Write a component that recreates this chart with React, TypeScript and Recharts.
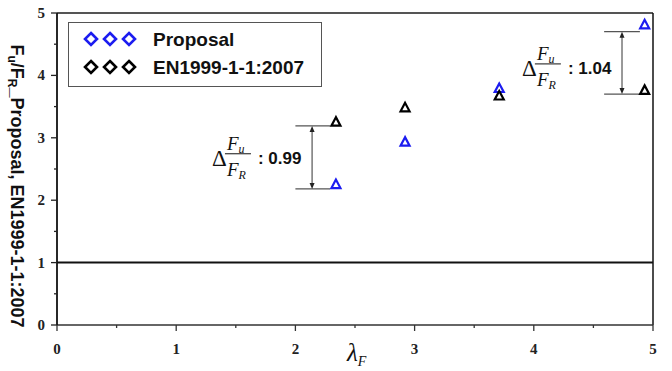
import {
  ScatterChart,
  Scatter,
  XAxis,
  YAxis,
  ReferenceLine,
  ReferenceDot,
  Legend,
} from 'recharts'

// values
const lambdaF = [2.34, 2.92, 3.71, 4.93]
const proposal = [2.25, 2.93, 3.79, 4.81]
const en1999 = [3.25, 3.48, 3.67, 3.76]
const axisTicks = [0, 0.5, 1, 1.5, 2, 2.5, 3, 3.5, 4, 4.5, 5]
const seriesNames = ['Proposal', 'EN1999-1-1:2007']
const seriesColors = ['#1c1cf0', '#000000']
const deltaValues = ['0.99', '1.04']

// difference markers (data units): [x left, x right, x arrow, y top, y bottom, text x, text y]
const deltaMarks = [
  [2.0, 2.29, 2.14, 3.19, 2.18, 1.3, 2.68],
  [4.59, 4.89, 4.74, 4.7, 3.7, 3.9, 4.12],
]

const proposalData = lambdaF.map((x, i) => ({ x, y: proposal[i] }))
const enData = lambdaF.map((x, i) => ({ x, y: en1999[i] }))

const serif = '"Liberation Serif", "Times New Roman", serif'
const sans = '"Liberation Sans", Arial, sans-serif'

function triangle(color: string) {
  return (p: any) => (
    <polygon
      points={`${p.cx},${p.cy - 5} ${p.cx - 4.5},${p.cy + 3.5} ${p.cx + 4.5},${p.cy + 3.5}`}
      fill='#fff'
      stroke={color}
      strokeWidth={2.2}
      strokeLinejoin='miter'
    />
  )
}

function XTick({ x, y, payload }: any) {
  const major = Number.isInteger(payload.value)
  return (
    <g>
      <line x1={x} y1={y} x2={x} y2={y + (major ? 6 : 3)} stroke='#333' strokeWidth={1.3} />
      {major && (
        <text x={x} y={y + 29} textAnchor='middle' fontFamily={serif} fontWeight='bold' fontSize={15} fill='#222'>
          {payload.value}
        </text>
      )}
    </g>
  )
}

function YTick({ x, y, payload }: any) {
  const major = Number.isInteger(payload.value)
  return (
    <g>
      <line x1={x} y1={y} x2={x - (major ? 6 : 3)} y2={y} stroke='#222' strokeWidth={1.3} />
      {major && (
        <text x={x - 12} y={y + 5} textAnchor='end' fontFamily={serif} fontWeight='bold' fontSize={15} fill='#222'>
          {payload.value}
        </text>
      )}
    </g>
  )
}

function YLabel({ viewBox }: any) {
  const x = viewBox.x + 11
  const y = viewBox.y + viewBox.height / 2 + 17
  return (
    <text x={x} y={y} transform={`rotate(90 ${x} ${y})`} textAnchor='middle' fontFamily={sans} fontWeight='bold' fontSize={18} fill='#111'>
      F<tspan fontSize={12} dy={3}>u</tspan>
      <tspan dy={-3}>/F</tspan>
      <tspan fontSize={12} dy={3}>R</tspan>
      <tspan dy={-3}>_Proposal, EN1999-1-1:2007</tspan>
    </text>
  )
}

function XLabel({ viewBox }: any) {
  const x = viewBox.x + 290
  const y = viewBox.y + 36
  return (
    <text x={x} y={y} fontFamily={serif} fontStyle='italic' fontSize={25} fill='#111'>
      λ<tspan fontSize={14} dy={5}>F</tspan>
    </text>
  )
}

function arrowShape(p: any) {
  const { x1, y1, x2, y2 } = p
  return (
    <g>
      <line x1={x1} y1={y1 + 3} x2={x2} y2={y2 - 3} stroke='#555' strokeWidth={1.2} />
      <polygon points={`${x1},${y1} ${x1 - 2.5},${y1 + 6} ${x1 + 2.5},${y1 + 6}`} fill='#222' />
      <polygon points={`${x2},${y2} ${x2 - 2.5},${y2 - 6} ${x2 + 2.5},${y2 - 6}`} fill='#222' />
    </g>
  )
}

function deltaText(value: string) {
  return (p: any) => {
    const { cx, cy } = p
    return (
      <g>
        <text x={cx} y={cy + 8} fontFamily={serif} fontSize={23} fill='#111'>Δ</text>
        <text x={cx + 15} y={cy - 8} fontFamily={serif} fontStyle='italic' fontSize={19} fill='#111'>
          F<tspan fontSize={12} dy={3}>u</tspan>
        </text>
        <line x1={cx + 13} y1={cy - 4} x2={cx + 39} y2={cy - 4} stroke='#111' strokeWidth={1} />
        <text x={cx + 15} y={cy + 18} fontFamily={serif} fontStyle='italic' fontSize={19} fill='#111'>
          F<tspan fontSize={12} dy={3}>R</tspan>
        </text>
        <text x={cx + 46} y={cy + 6} fontFamily={sans} fontWeight='bold' fontSize={17} fill='#111'>
          : {value}
        </text>
      </g>
    )
  }
}

function diamond(x: number, y: number, color: string, key: string) {
  return (
    <polygon
      key={key}
      points={`${x},${y - 6} ${x + 6},${y} ${x},${y + 6} ${x - 6},${y}`}
      fill='#fff'
      stroke={color}
      strokeWidth={2.6}
    />
  )
}

function LegendBox() {
  return (
    <svg width={254} height={65} style={{ display: 'block' }}>
      <rect x={0.5} y={0.5} width={253} height={64} fill='#fff' stroke='#555' strokeWidth={1} />
      {seriesNames.map((name, i) => (
        <g key={name}>
          {[0, 1, 2].map((k) => diamond(23 + k * 19, 17 + i * 28, seriesColors[i], `${name}-${k}`))}
          <text x={85} y={24 + i * 28} fontFamily={sans} fontWeight='bold' fontSize={19} fill='#111'>
            {name}
          </text>
        </g>
      ))}
    </svg>
  )
}

export default function App() {
  return (
    <div style={{ position: 'absolute', left: 0, top: 0, background: '#fff' }}>
      <ScatterChart width={672} height={371} margin={{ top: 13, right: 19, bottom: 0, left: 0 }}>
        <XAxis
          type='number'
          dataKey='x'
          domain={[0, 5]}
          ticks={axisTicks}
          interval={0}
          height={46}
          tickSize={0}
          tickMargin={0}
          tickLine={false}
          tick={<XTick />}
          axisLine={{ stroke: '#333', strokeWidth: 1.6 }}
          label={{ content: XLabel }}
        />
        <YAxis
          type='number'
          dataKey='y'
          domain={[0, 5]}
          ticks={axisTicks}
          interval={0}
          width={57}
          tickSize={0}
          tickMargin={0}
          tickLine={false}
          tick={<YTick />}
          axisLine={{ stroke: '#111', strokeWidth: 1.8 }}
          label={{ content: YLabel }}
        />
        <ReferenceLine y={5} stroke='#555' strokeWidth={2} />
        <ReferenceLine x={5} stroke='#111' strokeWidth={1.5} />
        <ReferenceLine y={1} stroke='#111' strokeWidth={2} />
        {deltaMarks.map((m, i) => (
          <g key={`d${i}`}>
            <ReferenceLine segment={[{ x: m[0], y: m[3] }, { x: m[1], y: m[3] }]} stroke='#555' strokeWidth={1.3} />
            <ReferenceLine segment={[{ x: m[0], y: m[4] }, { x: m[1], y: m[4] }]} stroke='#555' strokeWidth={1.3} />
            <ReferenceLine segment={[{ x: m[2], y: m[3] }, { x: m[2], y: m[4] }]} shape={arrowShape} />
            <ReferenceDot x={m[5]} y={m[6]} r={0} shape={deltaText(deltaValues[i])} />
          </g>
        ))}
        <Scatter name={seriesNames[0]} data={proposalData} shape={triangle(seriesColors[0])} isAnimationActive={false} />
        <Scatter name={seriesNames[1]} data={enData} shape={triangle(seriesColors[1])} isAnimationActive={false} />
        <Legend
          layout='horizontal'
          verticalAlign='middle'
          align='center'
          content={LegendBox}
          wrapperStyle={{ left: 68, top: 22, width: 254, height: 65 }}
        />
      </ScatterChart>
    </div>
  )
}
